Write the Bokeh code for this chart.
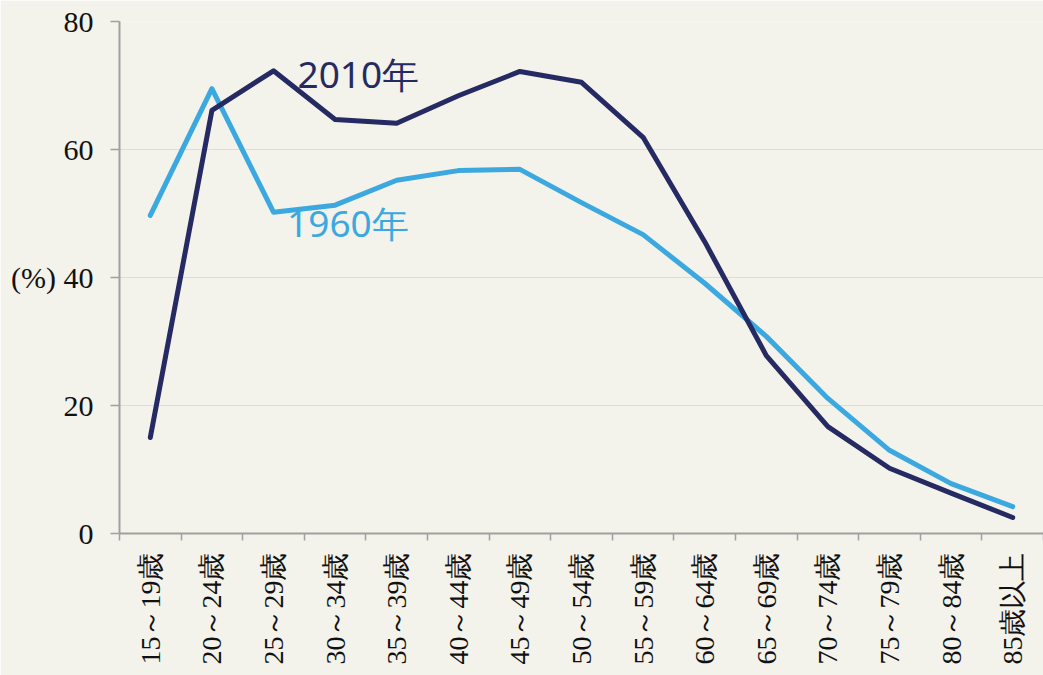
import numpy as np
from bokeh.plotting import figure
from bokeh.models import Range1d, FixedTicker, Label
from bokeh.embed import file_html
from bokeh.resources import INLINE

categories = ["15～19歳", "20～24歳", "25～29歳", "30～34歳", "35～39歳",
              "40～44歳", "45～49歳", "50～54歳", "55～59歳", "60～64歳",
              "65～69歳", "70～74歳", "75～79歳", "80～84歳", "85歳以上"]
rate_1960 = [49.7, 69.5, 50.2, 51.3, 55.2, 56.7, 56.9, 51.7, 46.7, 39.1,
             30.8, 21.1, 13.0, 7.8, 4.2]
rate_2010 = [15.0, 66.1, 72.3, 64.7, 64.1, 68.4, 72.2, 70.5, 61.9, 45.6,
             27.8, 16.7, 10.2, 6.3, 2.5]
y_ticks = [0, 20, 40, 60, 80]
series_names = ["1960年", "2010年"]

BG = "#f3f2eb"
C1960 = "#3ba9e0"
C2010 = "#252a63"

n = len(categories)
xc = np.arange(n) + 0.5

p = figure(width=1043, height=675, output_backend="svg", toolbar_location=None,
           x_range=Range1d(0, n), y_range=Range1d(0, 80),
           min_border_left=119, min_border_right=0, min_border_top=21,
           min_border_bottom=142, background_fill_color=BG,
           border_fill_color=BG, outline_line_color=None)

p.line(xc, rate_1960, line_color=C1960, line_width=5, line_cap="round", line_join="round")
p.line(xc, rate_2010, line_color=C2010, line_width=5, line_cap="round", line_join="round")

# x axis
xa = p.xaxis[0]
xa.ticker = FixedTicker(ticks=list(xc), minor_ticks=list(range(n + 1)))
xa.major_label_overrides = {float(v): c for v, c in zip(xc, categories)}
xa.major_label_orientation = np.pi / 2
xa.major_tick_line_color = None
xa.major_tick_out = 7
xa.major_tick_in = 0
xa.minor_tick_out = 7
xa.minor_tick_in = 0
xa.minor_tick_line_color = "#a0a0a0"
xa.minor_tick_line_width = 1.5
xa.axis_line_color = "#a0a0a0"
xa.axis_line_width = 2
xa.major_label_standoff = 12
xa.major_label_text_font = "Liberation Serif"
xa.major_label_text_font_size = "28px"
xa.major_label_text_color = "#111111"

# y axis
ya = p.yaxis[0]
ya.ticker = FixedTicker(ticks=y_ticks, minor_ticks=[])
ya.major_label_overrides = {40: "(%) 40"}
ya.major_tick_out = 9
ya.major_tick_in = 0
ya.major_tick_line_color = "#a0a0a0"
ya.major_tick_line_width = 1.5
ya.axis_line_color = "#a0a0a0"
ya.axis_line_width = 2
ya.major_label_standoff = 17
ya.major_label_text_font = "Liberation Serif"
ya.major_label_text_font_size = "30px"
ya.major_label_text_color = "#111111"

p.xgrid.grid_line_color = None
p.ygrid.ticker = FixedTicker(ticks=y_ticks)
p.ygrid.grid_line_color = "#dcdcd8"
p.ygrid.grid_line_width = 1

p.add_layout(Label(x=2.89, y=71.9, text=series_names[1], text_color=C2010,
                   text_font="Noto Sans", text_font_size="37px",
                   text_baseline="middle", text_align="left"))
p.add_layout(Label(x=2.72, y=48.6, text=series_names[0], text_color=C1960,
                   text_font="Noto Sans", text_font_size="37px",
                   text_baseline="middle", text_align="left"))

open("out.html", "w").write(file_html(p, INLINE))
